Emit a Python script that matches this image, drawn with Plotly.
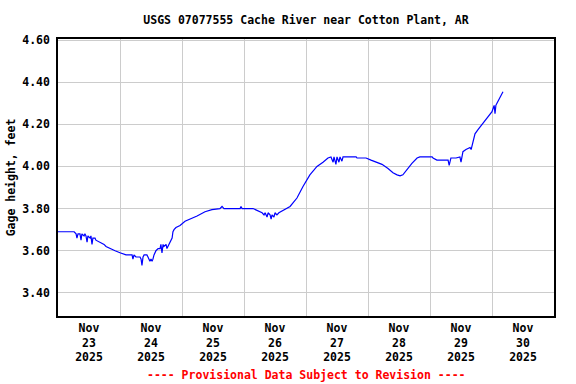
import plotly.graph_objects as go

times = [
    "2025-11-23 00:00", "2025-11-23 06:15", "2025-11-23 07:00", "2025-11-23 07:20", "2025-11-23 07:45",
    "2025-11-23 08:30", "2025-11-23 08:55", "2025-11-23 09:15", "2025-11-23 10:05", "2025-11-23 10:25",
    "2025-11-23 10:50", "2025-11-23 11:15", "2025-11-23 11:35", "2025-11-23 12:25", "2025-11-23 12:45",
    "2025-11-23 13:10", "2025-11-23 13:30", "2025-11-23 14:20", "2025-11-23 14:40", "2025-11-23 16:15",
    "2025-11-23 17:50", "2025-11-23 18:35", "2025-11-23 20:05", "2025-11-23 22:05", "2025-11-24 00:00",
    "2025-11-24 02:20", "2025-11-24 04:40", "2025-11-24 05:00", "2025-11-24 05:25", "2025-11-24 06:10",
    "2025-11-24 07:45", "2025-11-24 08:10", "2025-11-24 08:30", "2025-11-24 08:55", "2025-11-24 09:20",
    "2025-11-24 10:25", "2025-11-24 10:50", "2025-11-24 11:15", "2025-11-24 11:35", "2025-11-24 12:00",
    "2025-11-24 12:25", "2025-11-24 12:45", "2025-11-24 13:10", "2025-11-24 13:55", "2025-11-24 14:45",
    "2025-11-24 15:30", "2025-11-24 15:50", "2025-11-24 16:15", "2025-11-24 16:40", "2025-11-24 17:00",
    "2025-11-24 17:50", "2025-11-24 18:10", "2025-11-24 18:35", "2025-11-24 19:20", "2025-11-24 20:10",
    "2025-11-24 20:30", "2025-11-24 20:55", "2025-11-24 21:40", "2025-11-24 23:15", "2025-11-25 01:10",
    "2025-11-25 03:05", "2025-11-25 05:50", "2025-11-25 08:55", "2025-11-25 11:35", "2025-11-25 14:40",
    "2025-11-25 15:30", "2025-11-25 16:15", "2025-11-25 22:30", "2025-11-25 22:50", "2025-11-25 23:15",
    "2025-11-26 03:30", "2025-11-26 04:15", "2025-11-26 05:25", "2025-11-26 07:00", "2025-11-26 07:45",
    "2025-11-26 08:10", "2025-11-26 08:55", "2025-11-26 09:20", "2025-11-26 10:05", "2025-11-26 10:30",
    "2025-11-26 10:50", "2025-11-26 11:35", "2025-11-26 12:00", "2025-11-26 12:45", "2025-11-26 13:30",
    "2025-11-26 15:05", "2025-11-26 17:50", "2025-11-26 20:30", "2025-11-26 22:50", "2025-11-27 01:30",
    "2025-11-27 04:15", "2025-11-27 06:35", "2025-11-27 08:30", "2025-11-27 09:40", "2025-11-27 10:30",
    "2025-11-27 10:50", "2025-11-27 11:35", "2025-11-27 12:00", "2025-11-27 12:45", "2025-11-27 13:10",
    "2025-11-27 13:55", "2025-11-27 14:20", "2025-11-27 15:05", "2025-11-27 19:25", "2025-11-27 19:45",
    "2025-11-27 23:15", "2025-11-28 01:10", "2025-11-28 03:30", "2025-11-28 05:25", "2025-11-28 07:45",
    "2025-11-28 09:40", "2025-11-28 11:15", "2025-11-28 12:25", "2025-11-28 13:30", "2025-11-28 15:05",
    "2025-11-28 17:00", "2025-11-28 19:00", "2025-11-28 20:05", "2025-11-29 00:50", "2025-11-29 01:10",
    "2025-11-29 02:40", "2025-11-29 07:00", "2025-11-29 07:25", "2025-11-29 07:45", "2025-11-29 08:05",
    "2025-11-29 10:05", "2025-11-29 11:35", "2025-11-29 12:00", "2025-11-29 12:25", "2025-11-29 12:45",
    "2025-11-29 13:55", "2025-11-29 15:30", "2025-11-29 15:55", "2025-11-29 16:15", "2025-11-29 16:40",
    "2025-11-29 17:25", "2025-11-29 18:35", "2025-11-29 20:10", "2025-11-29 21:15", "2025-11-29 22:50",
    "2025-11-30 00:00", "2025-11-30 00:25", "2025-11-30 00:50", "2025-11-30 01:10", "2025-11-30 01:30",
    "2025-11-30 01:55", "2025-11-30 02:40", "2025-11-30 03:05", "2025-11-30 03:55", "2025-11-30 04:15",
]

gage_height = [
    3.69, 3.69, 3.68, 3.66, 3.68,
    3.68, 3.65, 3.68, 3.67, 3.68,
    3.67, 3.64, 3.67, 3.66, 3.67,
    3.63, 3.66, 3.66, 3.65, 3.64,
    3.63, 3.62, 3.61, 3.60, 3.59,
    3.58, 3.58, 3.56, 3.58, 3.57,
    3.57, 3.56, 3.53, 3.57, 3.58,
    3.58, 3.57, 3.56, 3.55, 3.56,
    3.55, 3.56, 3.58, 3.60, 3.61,
    3.61, 3.63, 3.59, 3.63, 3.62,
    3.63, 3.61, 3.62, 3.64, 3.66,
    3.69, 3.70, 3.71, 3.72, 3.74,
    3.75, 3.765, 3.785, 3.795, 3.80,
    3.81, 3.80, 3.80, 3.81, 3.80,
    3.80, 3.795, 3.79, 3.78, 3.77,
    3.78, 3.76, 3.78, 3.77, 3.75,
    3.77, 3.76, 3.78, 3.77, 3.78,
    3.79, 3.81, 3.85, 3.905, 3.96,
    4.00, 4.02, 4.04, 4.045, 4.02,
    4.045, 4.01, 4.045, 4.02, 4.045,
    4.025, 4.045, 4.045, 4.045, 4.04,
    4.04, 4.03, 4.02, 4.01, 3.99,
    3.97, 3.96, 3.955, 3.96, 3.985,
    4.015, 4.04, 4.045, 4.045, 4.04,
    4.03, 4.03, 4.005, 4.03, 4.04,
    4.04, 4.045, 4.02, 4.045, 4.07,
    4.08, 4.09, 4.08, 4.10, 4.12,
    4.155, 4.175, 4.20, 4.22, 4.24,
    4.26, 4.275, 4.29, 4.25, 4.29,
    4.30, 4.32, 4.33, 4.345, 4.355,
]

y_ticks = [3.40, 3.60, 3.80, 4.00, 4.20, 4.40, 4.60]

title_text = "USGS 07077555 Cache River near Cotton Plant, AR"
y_title = "Gage height, feet"
footer = "---- Provisional Data Subject to Revision ----"

FONT = "DejaVu Sans Mono"
FS = 11.5

fig = go.Figure()
fig.add_trace(go.Scatter(
    x=times, y=gage_height, mode="lines",
    line=dict(color="#0000FF", width=1.2),
    showlegend=False,
))

fig.update_layout(
    width=576, height=384,
    margin=dict(l=58, r=22, t=39, b=68, autoexpand=False),
    paper_bgcolor="white", plot_bgcolor="white",
    font=dict(family=FONT, size=FS, color="black", weight="bold"),
    title=dict(text=title_text, x=306 / 576, xanchor="center",
               y=1 - 19.5 / 384, yanchor="middle", yref="container",
               font=dict(family=FONT, size=FS, color="black", weight="bold")),
)

fig.update_xaxes(
    type="date",
    range=["2025-11-23 00:00", "2025-12-01 00:00"],
    dtick=86400000, tick0="2025-11-23",
    tickformat="%b<br>%d<br>%Y",
    ticklabelmode="period",
    ticks="", showgrid=True, gridcolor="#cccccc", gridwidth=1,
    showline=True, linecolor="black", linewidth=1.5, mirror=True,
    tickfont=dict(family=FONT, size=FS, color="black", weight="bold"),
    zeroline=False, automargin=False,
)

fig.update_yaxes(
    range=[3.29, 4.605],
    tickvals=y_ticks, tickformat=".2f",
    ticks="outside", ticklen=4, tickcolor="white",
    showgrid=True, gridcolor="#cccccc", gridwidth=1,
    showline=True, linecolor="black", linewidth=1.5, mirror=True,
    tickfont=dict(family=FONT, size=FS, color="black", weight="bold"),
    title=dict(text=y_title, standoff=4,
               font=dict(family=FONT, size=FS, color="black", weight="bold")),
    zeroline=False, automargin=False,
)

fig.add_annotation(
    text=footer, xref="paper", yref="paper", x=0.5, y=-(375 - 316) / (316 - 39),
    yanchor="middle", xanchor="center", showarrow=False,
    font=dict(family=FONT, size=FS, color="#FF0000", weight="bold"),
)

fig.write_html(
    "out.html",
    config={"displayModeBar": False},
    post_script="document.body.style.margin='0';document.body.style.padding='0';",
)
